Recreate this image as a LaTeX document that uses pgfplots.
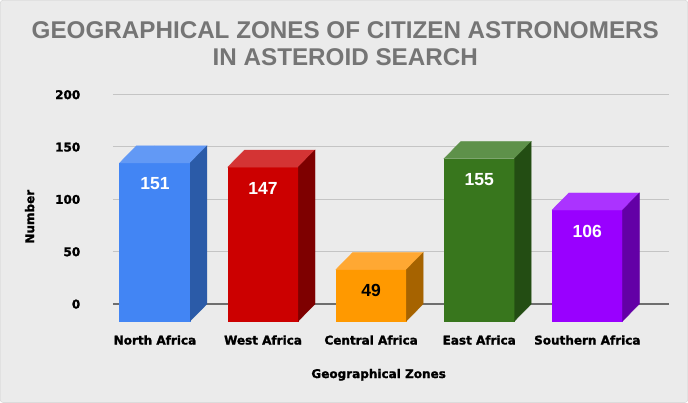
\documentclass[border=0pt]{standalone}
\usepackage{fontspec}
\setmainfont{Liberation Sans}
\newfontfamily\dv{DejaVu Sans Bold}[FakeBold=1.6]
\usepackage{pgfplots}
\pgfplotsset{compat=1.18}
\definecolor{bg}{HTML}{EBEBEB}
\definecolor{frame}{HTML}{D0D0D0}
\definecolor{titlegray}{HTML}{757575}
\definecolor{gridc}{HTML}{C4C4C4}
\definecolor{zeroc}{HTML}{6E6E6E}
\definecolor{naF}{HTML}{4285F4}\definecolor{naT}{HTML}{6299F5}\definecolor{naS}{HTML}{2B5BA8}
\definecolor{waF}{HTML}{CC0000}\definecolor{waT}{HTML}{D43434}\definecolor{waS}{HTML}{7E0000}
\definecolor{caF}{HTML}{FF9900}\definecolor{caT}{HTML}{FFA833}\definecolor{caS}{HTML}{A66300}
\definecolor{eaF}{HTML}{38761D}\definecolor{eaT}{HTML}{5E914A}\definecolor{eaS}{HTML}{234D13}
\definecolor{saF}{HTML}{9900FF}\definecolor{saT}{HTML}{AB33FF}\definecolor{saS}{HTML}{6300A6}
\newcommand\labfont{\dv\fontsize{12}{14}\selectfont}
\newcommand\valfont{\bfseries\fontsize{17.5}{20}\selectfont}
\pgfplotsset{
  bar3d/.style n args={4}{
    only marks, scatter, mark=*, mark size=0pt,
    mark options={draw=none, fill=none},
    visualization depends on={value \thisrow{v} \as \barval},
    scatter/@pre marker code/.code={%
      \pgfmathsetmacro\ybot{-(\barval*1.046+17)}%
      \pgfmathsetmacro\yback{-(\barval*1.046)}%
      \fill[#1] (-35.25pt,\ybot pt) rectangle (35.25pt,-17pt);
      \fill[#2] (-35.25pt,-17pt) -- (-18.55pt,0pt) -- (51.95pt,0pt) -- (35.25pt,-17pt) -- cycle;
      \fill[#3] (35.25pt,-17pt) -- (51.95pt,0pt) -- (51.95pt,\yback pt) -- (35.25pt,\ybot pt) -- cycle;
      \node[font=\valfont, text=#4, anchor=base, inner sep=0pt] at (0pt,-44pt) {\barval};
    },
    scatter/@post marker code/.code={},
  },
}
\begin{document}
\begin{tikzpicture}
\fill[bg, draw=frame, rounded corners=3pt] (0.5pt,0.5pt) rectangle (687.5pt,402.5pt);
\begin{axis}[
  at={(113pt,99pt)}, anchor=south west,
  x=108pt, y=1.046pt,
  xmin=-0.39, xmax=4.755, ymin=0, ymax=200,
  clip=false,
  axis line style={draw=none},
  major tick length=0pt,
  ytick={50,100,150,200},
  extra y ticks={0},
  extra y tick style={grid style={color=zeroc, line width=1.2pt}},
  ymajorgrids,
  grid style={color=gridc, line width=1.1pt},
  xtick={0,1,2,3,4},
  xticklabels={North Africa, West Africa, Central Africa, East Africa, Southern Africa},
  /pgf/number format/assume math mode=true,
  xticklabel style={font=\labfont, anchor=base, yshift=-40.5pt},
  yticklabel style={font=\labfont, anchor=base east, xshift=-29pt, yshift=-4.5pt},
  xlabel={Geographical Zones},
  ylabel={Number},
  every axis x label/.style={at={(axis description cs:0.478,-0.338)}, anchor=center, font=\labfont},
  every axis y label/.style={at={(axis description cs:-0.1495,0.4167)}, anchor=center, rotate=90, font=\labfont},
  title={GEOGRAPHICAL ZONES OF CITIZEN ASTRONOMERS\\IN ASTEROID SEARCH},
  title style={at={(axis description cs:0.418,1.214)}, anchor=center, align=center,
    font=\bfseries\fontsize{24.2}{27}\selectfont, text=titlegray},
]
\addplot[bar3d={naF}{naT}{naS}{white}] table[row sep=\\]{x v\\ 0 151\\};
\addplot[bar3d={waF}{waT}{waS}{white}] table[row sep=\\]{x v\\ 1 147\\};
\addplot[bar3d={caF}{caT}{caS}{black}] table[row sep=\\]{x v\\ 2 49\\};
\addplot[bar3d={eaF}{eaT}{eaS}{white}] table[row sep=\\]{x v\\ 3 155\\};
\addplot[bar3d={saF}{saT}{saS}{white}] table[row sep=\\]{x v\\ 4 106\\};
\end{axis}
\end{tikzpicture}
\end{document}
